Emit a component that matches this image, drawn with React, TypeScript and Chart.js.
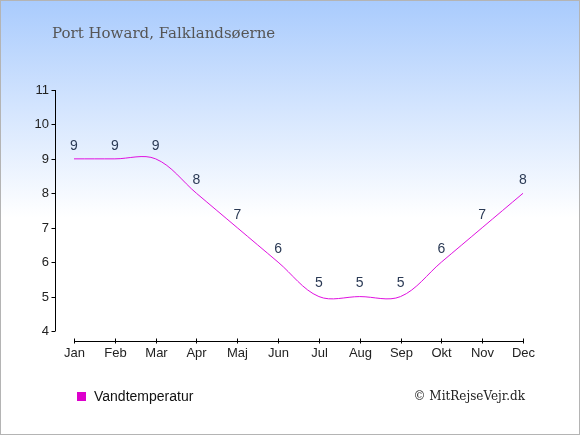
import React, { useEffect, useRef } from "react";
import { Chart, registerables } from "chart.js";

Chart.register(...registerables);

const title = "Port Howard, Falklandsøerne";
const months = ["Jan", "Feb", "Mar", "Apr", "Maj", "Jun", "Jul", "Aug", "Sep", "Okt", "Nov", "Dec"];
const waterTemp = [9, 9, 9, 8, 7, 6, 5, 5, 5, 6, 7, 8];
const yTicks = [4, 5, 6, 7, 8, 9, 10, 11];
const legendLabel = "Vandtemperatur";
const credit = "© MitRejseVejr.dk";

const W = 580;
const H = 435;

export default function App() {
  const ref = useRef<HTMLCanvasElement | null>(null);

  useEffect(() => {
    document.body.style.margin = "0";
    const canvas = ref.current!;
    const deco = {
      id: "deco",
      beforeDraw(chart: any) {
        const ctx = chart.ctx;
        ctx.save();
        const g = ctx.createLinearGradient(0, 0, 0, H);
        g.addColorStop(0, "#a9cbfd");
        g.addColorStop(0.5, "#ffffff");
        g.addColorStop(1, "#ffffff");
        ctx.fillStyle = g;
        ctx.fillRect(0, 0, W, H);
        ctx.strokeStyle = "#b4b4b4";
        ctx.lineWidth = 1;
        ctx.strokeRect(0.5, 0.5, W - 1, H - 1);

        ctx.fillStyle = "#555555";
        ctx.font = "15px 'DejaVu Serif', serif";
        ctx.textBaseline = "alphabetic";
        ctx.textAlign = "left";
        ctx.fillText(title, 52, 38);

        const xs = chart.scales.x;
        const ys = chart.scales.y;
        const axisX = 55.5;
        ctx.strokeStyle = "#000";
        ctx.lineWidth = 1;
        // y axis
        ctx.beginPath();
        ctx.moveTo(axisX, ys.getPixelForValue(11));
        ctx.lineTo(axisX, ys.getPixelForValue(4));
        ctx.stroke();
        ctx.fillStyle = "#222";
        ctx.font = "13px 'Liberation Sans', Arial, sans-serif";
        ctx.textAlign = "right";
        ctx.textBaseline = "middle";
        yTicks.forEach((v) => {
          const py = Math.round(ys.getPixelForValue(v)) + 0.5;
          ctx.beginPath();
          ctx.moveTo(axisX - 4, py);
          ctx.lineTo(axisX, py);
          ctx.stroke();
          ctx.fillText(String(v), 49, py);
        });
        // x axis
        const axisY = 341.5;
        ctx.beginPath();
        ctx.moveTo(xs.getPixelForValue(0), axisY);
        ctx.lineTo(xs.getPixelForValue(11), axisY);
        ctx.stroke();
        ctx.textAlign = "center";
        ctx.textBaseline = "middle";
        months.forEach((m, i) => {
          const px = Math.round(xs.getPixelForValue(i)) + 0.5;
          ctx.beginPath();
          ctx.moveTo(px, axisY - 3);
          ctx.lineTo(px, axisY + 2);
          ctx.stroke();
          ctx.fillText(m, px, 353);
        });

        // legend
        ctx.fillStyle = "#dd00cc";
        ctx.fillRect(77, 392, 9, 9);
        ctx.fillStyle = "#111";
        ctx.font = "14px 'Liberation Sans', Arial, sans-serif";
        ctx.textAlign = "left";
        ctx.fillText(legendLabel, 94, 397);
        ctx.font = "12px 'DejaVu Serif', serif";
        ctx.textAlign = "right";
        ctx.fillStyle = "#222";
        ctx.fillText(credit, 525, 397);
        ctx.restore();
      },
      afterDatasetsDraw(chart: any) {
        const ctx = chart.ctx;
        const meta = chart.getDatasetMeta(0);
        ctx.save();
        ctx.fillStyle = "#2b3a55";
        ctx.font = "14px 'Liberation Sans', Arial, sans-serif";
        ctx.textAlign = "center";
        ctx.textBaseline = "middle";
        meta.data.forEach((pt: any, i: number) => {
          ctx.fillText(String(waterTemp[i]), pt.x, pt.y - 13);
        });
        ctx.restore();
      },
    };

    const chart = new Chart(canvas, {
      type: "line",
      data: {
        datasets: [
          {
            label: legendLabel,
            data: waterTemp.map((v, i) => ({ x: i, y: v })),
            borderColor: "#e010e0",
            borderWidth: 1,
            pointRadius: 0,
            tension: 0.35,
            fill: false,
          },
        ],
      },
      options: {
        animation: false,
        responsive: false,
        devicePixelRatio: 1,
        layout: { padding: { left: 74, right: 57, top: 90, bottom: 104 } },
        plugins: { legend: { display: false }, tooltip: { enabled: false } },
        scales: {
          x: { type: "linear", min: 0, max: 11, display: false },
          y: { type: "linear", min: 4, max: 11, display: false },
        },
      },
      plugins: [deco],
    });
    return () => chart.destroy();
  }, []);

  return <canvas ref={ref} width={W} height={H} style={{ display: "block" }} />;
}
